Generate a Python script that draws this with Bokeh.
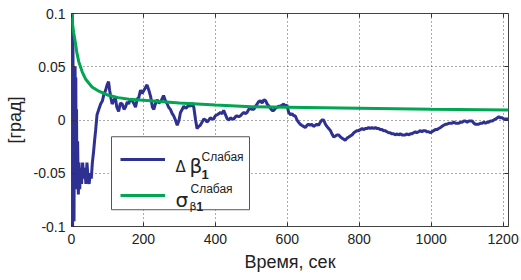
from bokeh.plotting import figure
from bokeh.models import (FixedTicker, LinearAxis, Range1d, Legend, LegendItem, Label,
                          BoxAnnotation)
from bokeh.embed import file_html
from bokeh.resources import INLINE

# ---- data ----
t_blue = [0, 1, 2, 3, 4, 5, 6, 7, 8, 9, 10, 11, 12, 13, 14, 15, 17, 19, 21, 23, 25, 28, 31, 34, 37,
          40, 43, 46, 49, 52, 55, 58, 61, 64, 67, 71, 76, 81, 86, 90, 95, 99, 103, 106, 110, 113,
          117, 122, 126, 131, 136, 141, 146, 150, 155, 159, 164, 169, 174, 178, 183, 187, 192, 196,
          200, 205, 210, 215, 220, 225, 229, 234, 238, 243, 247, 252, 256, 261, 265, 270, 275, 280,
          284, 289, 294, 299, 303, 308, 312, 317, 321, 326, 331, 336, 340, 345, 349, 354, 358, 363,
          368, 373, 377, 382, 386, 391, 395, 400, 405, 410, 414, 419, 423, 428, 433, 438, 442, 447,
          451, 456, 460, 465, 470, 475, 479, 484, 488, 493, 497, 502, 507, 512, 516, 520, 525, 530,
          535, 540, 544, 549, 553, 558, 562, 567, 572, 576, 581, 586, 590, 594, 599, 604, 609, 613,
          618, 622, 627, 631, 636, 640, 645, 650, 655, 659, 664, 668, 673, 678, 682, 687, 692, 696,
          701, 706, 710, 715, 720, 724, 729, 734, 738, 743, 748, 752, 757, 761, 766, 771, 775, 780,
          785, 789, 794, 798, 803, 808, 812, 817, 822, 826, 831, 835, 840, 845, 849, 854, 859, 863,
          868, 872, 877, 882, 886, 891, 896, 900, 905, 909, 914, 919, 923, 928, 933, 937, 942, 946,
          951, 956, 960, 965, 970, 974, 979, 984, 988, 993, 998, 1002, 1007, 1012, 1016, 1021, 1026,
          1030, 1035, 1040, 1044, 1049, 1054, 1058, 1063, 1068, 1072, 1077, 1082, 1086, 1091, 1095,
          1100, 1105, 1109, 1114, 1119, 1123, 1128, 1132, 1137, 1142, 1146, 1151, 1156, 1160, 1165,
          1170, 1174, 1179, 1184, 1188, 1193, 1198, 1202, 1207, 1212, 1215]
d_beta = [0.0, -0.09, 0.1, -0.1, 0.08, -0.08, 0.05, -0.095, 0.03, -0.06, 0.05, -0.04, 0.04, -0.065,
          0.01, -0.06, -0.02, -0.07, -0.04, -0.065, -0.045, -0.06, -0.04, -0.055, -0.045,
          -0.06, -0.04, -0.055, -0.06, -0.05, -0.055, -0.04, -0.031, -0.02, -0.01, 0.005, 0.01,
          0.015, 0.018, 0.024, 0.028, 0.033, 0.036, 0.028, 0.02, 0.015,
          0.018, 0.021, 0.012, 0.008, 0.016, 0.015, 0.01, 0.012, 0.017, 0.015, 0.02, 0.018, 0.015,
          0.012, 0.02, 0.021, 0.028, 0.025,
          0.027, 0.03, 0.033, 0.028, 0.022, 0.012, 0.01, 0.016, 0.019, 0.016, 0.017, 0.02, 0.023,
          0.018, 0.016, 0.012, 0.01, 0.006,
          0.004, 0.0, -0.005, 0.0, 0.007, 0.01, 0.013, 0.011, 0.012, 0.014, 0.013, 0.016, 0.012,
          0.0, -0.008, -0.006, -0.005, -0.002,
          0.001, 0.0, -0.002, 0.0, 0.002, 0.001, 0.001, 0.004, 0.005, 0.006, 0.007, 0.006, 0.009,
          0.005, 0.001, 0.0, 0.002, 0.001,
          0.001, 0.003, 0.004, 0.003, 0.004, 0.006, 0.007, 0.006, 0.007, 0.01, 0.011, 0.01, 0.01,
          0.013, 0.015, 0.017, 0.018, 0.016,
          0.019, 0.018, 0.015, 0.013, 0.011, 0.009, 0.009, 0.011, 0.012, 0.013, 0.013, 0.014,
          0.015, 0.013, 0.014, 0.007, 0.005, 0.006,
          0.004, 0.004, 0.0, -0.002, -0.004, -0.005, -0.006, -0.007, -0.005, -0.004, -0.005,
          -0.004, -0.006, -0.005, -0.004, -0.005, -0.002, 0.0,
          0.0, -0.004, -0.006, -0.008, -0.01, -0.013, -0.016, -0.015, -0.014, -0.014, -0.016,
          -0.017, -0.018, -0.019, -0.017, -0.016, -0.015, -0.014,
          -0.012, -0.011, -0.01, -0.01, -0.009, -0.008, -0.009, -0.008, -0.008, -0.007, -0.008,
          -0.007, -0.008, -0.007, -0.008, -0.008, -0.009, -0.009,
          -0.01, -0.01, -0.011, -0.012, -0.012, -0.013, -0.013, -0.014, -0.013, -0.014, -0.013,
          -0.014, -0.014, -0.014, -0.013, -0.014, -0.013, -0.013,
          -0.012, -0.011, -0.012, -0.011, -0.01, -0.011, -0.01, -0.01, -0.011, -0.011, -0.012,
          -0.011, -0.01, -0.009, -0.009, -0.008, -0.007,
          -0.006, -0.005, -0.004, -0.004, -0.003, -0.003, -0.003, -0.002, -0.003, -0.003, -0.003,
          -0.002, -0.002, -0.001, -0.001,
          -0.002, -0.001, -0.001, -0.001, -0.003, -0.004, -0.004, -0.004, -0.003, -0.003, -0.002,
          -0.003, -0.002, -0.002, -0.001,
          -0.001, 0.0, 0.001, 0.002, 0.003, 0.002, 0.002, 0.001, 0.001, 0.001, 0.001]

t_sigma = [0, 3, 6, 11, 15, 20, 30, 40, 57, 76, 100, 130, 160, 200, 300, 400, 500, 600, 800,
           1000, 1215]
sigma = [0.1, 0.09, 0.082, 0.072, 0.063, 0.055, 0.045, 0.038, 0.031, 0.027, 0.0235, 0.021,
         0.0195, 0.0185, 0.016, 0.014, 0.0125, 0.012, 0.011, 0.01, 0.0093]

x_ticks = [0, 200, 400, 600, 800, 1000, 1200]
y_ticks = [-0.1, -0.05, 0, 0.05, 0.1]
y_tick_labels = ["-0.1", "-0.05", "0", "0.05", "0.1"]

BLUE = "#2e3192"
GREEN = "#00a651"
FONT = "Liberation Sans"

X0, X1 = 0, 1215
Y0, Y1 = -0.1, 0.1

p = figure(width=520, height=274, output_backend="svg", toolbar_location=None,
           x_range=Range1d(X0, X1), y_range=Range1d(Y0, Y1),
           min_border_left=71, min_border_right=12, min_border_top=13, min_border_bottom=45,
           background_fill_color="white", border_fill_color="white")
p.outline_line_color = "#444444"
p.outline_line_width = 1

# axes
for ax in (p.xaxis[0], p.yaxis[0]):
    ax.axis_line_color = None
    ax.major_tick_in = 4
    ax.major_tick_out = 0
    ax.major_tick_line_color = "#333333"
    ax.minor_tick_line_color = None
    ax.major_label_text_font = FONT
    ax.major_label_text_font_size = "14px"
    ax.major_label_text_color = "#222222"
    ax.axis_label_text_font = FONT
    ax.axis_label_text_font_size = "18px"
    ax.axis_label_text_font_style = "normal"
    ax.axis_label_text_color = "#222222"

p.xaxis.ticker = FixedTicker(ticks=x_ticks)
p.yaxis.ticker = FixedTicker(ticks=y_ticks)
p.yaxis.major_label_overrides = {v: s for v, s in zip(y_ticks, y_tick_labels)}
p.xaxis.axis_label = "Время, сек"
p.yaxis.axis_label = "[град]"
p.xaxis.major_label_standoff = 7
p.xaxis.axis_label_standoff = 5
p.yaxis.major_label_standoff = 6
p.yaxis.axis_label_standoff = 6

for side, tk in (("right", y_ticks), ("above", x_ticks)):
    a = LinearAxis(ticker=FixedTicker(ticks=tk), axis_line_color=None,
                   major_tick_in=4, major_tick_out=0, minor_tick_line_color=None,
                   major_tick_line_color="#333333",
                   major_label_overrides={t: "" for t in tk},
                   major_label_standoff=0)
    p.add_layout(a, side)

# grid
for g in (p.xgrid[0], p.ygrid[0]):
    g.grid_line_color = "#555555"
    g.grid_line_dash = "1 3"
    g.grid_line_width = 1
    g.grid_line_alpha = 1

rb = p.line(t_blue, d_beta, line_color=BLUE, line_width=3)
rg = p.line(t_sigma, sigma, line_color=GREEN, line_width=3)

# legend frame geometry (screen px of the reference frame -> data units)
FL, FR, FT, FB = 71.0, 508.0, 13.0, 229.0


def dx(px):
    return X0 + (px - FL) / (FR - FL) * (X1 - X0)


def dy(py):
    return Y1 - (py - FT) / (FB - FT) * (Y1 - Y0)


p.add_layout(BoxAnnotation(left=dx(111), right=dx(249), top=dy(138), bottom=dy(212),
                           fill_color="white", fill_alpha=1, line_color="#555555",
                           line_width=1, line_alpha=1))

texts = [
    ("Δ", 175, 169, "15px", "normal", "DejaVu Sans"),
    ("β", 189, 168, "20px", "normal", "DejaVu Sans"),
    ("Слабая", 201, 159, "12px", "normal", FONT),
    ("1", 201, 176, "13px", "bold", FONT),
    ("σ", 175, 202, "20px", "normal", "DejaVu Sans"),
    ("Слабая", 190, 191, "12px", "normal", FONT),
    ("β", 189, 209, "11px", "normal", "DejaVu Sans"),
    ("1", 196, 209, "12px", "bold", FONT),
]
for txt, px, py, fs, fw, fn in texts:
    p.add_layout(Label(x=dx(px), y=dy(py), text=txt, text_font=fn, text_font_size=fs,
                       text_font_style=fw, text_color="#222222", text_align="left",
                       text_baseline="alphabetic"))

legend = Legend(items=[LegendItem(label=" ", renderers=[rb]),
                       LegendItem(label=" ", renderers=[rg])],
                location=(40, 12), orientation="vertical", padding=9, spacing=16,
                glyph_height=20, glyph_width=45, label_height=20, label_width=70,
                label_standoff=5, margin=0, border_line_color="white",
                border_line_alpha=0, background_fill_color="white",
                background_fill_alpha=0)
p.add_layout(legend)

open("out.html", "w").write(file_html(p, INLINE))
